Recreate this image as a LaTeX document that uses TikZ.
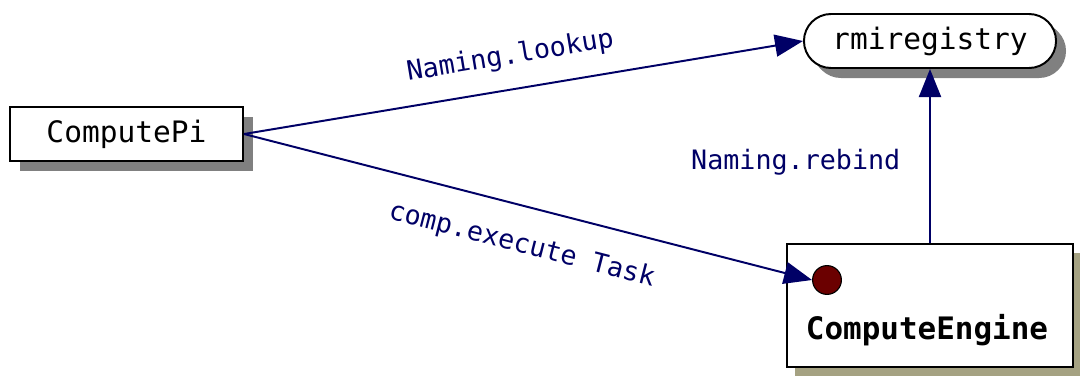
\documentclass[tikz,border=0pt]{standalone}
\usepackage{fontspec}
\setmonofont{DejaVu Sans Mono}
\usepackage{xcolor}
\usepackage{tikz}
\usetikzlibrary{arrows.meta,positioning,shapes.misc,shadows}
\definecolor{wire}{RGB}{0,0,102}
\definecolor{portred}{RGB}{107,0,0}
\definecolor{khaki}{RGB}{165,162,130}
\tikzset{
  objbox/.style={draw, line width=1.4pt, fill=white, inner sep=0pt,
                 font=\ttfamily\fontsize{21}{24}\selectfont,
                 drop shadow={shadow xshift=0.25cm, shadow yshift=-0.25cm,
                              fill=black!50, opacity=1}},
  registry/.style={objbox, rounded rectangle,
                   drop shadow={shadow xshift=0.2cm, shadow yshift=-0.2cm,
                                fill=black!50, opacity=1}},
  server/.style={draw, line width=1.4pt, fill=white, inner sep=0pt,
                 drop shadow={shadow xshift=0.2cm, shadow yshift=-0.22cm,
                              fill=khaki, opacity=1}},
  port/.style={circle, draw, line width=0.8pt, fill=portred, minimum size=0.72cm, inner sep=0pt},
  msg/.style={-{Triangle[length=0.7cm,width=0.55cm]}, line width=1.4pt, draw=wire},
  msglabel/.style={text=wire, font=\ttfamily\fontsize{19}{22}\selectfont}
}
\begin{document}
\begin{tikzpicture}[x=0.025cm, y=-0.025cm]
  \useasboundingbox (0,0) rectangle (1080,376);
  \node[objbox, minimum width=5.825cm, minimum height=1.35cm] (pi) at (126.5,134) {ComputePi};
  \node[registry, minimum width=6.3cm, minimum height=1.35cm] (reg) at (930,41) {rmiregistry};
  \node[server, minimum width=7.15cm, minimum height=3.075cm] (engine) at (930,305.5) {};
  \node[font=\ttfamily\bfseries\fontsize{22}{26}\selectfont] (enginename) at (927,330) {ComputeEngine};
  \node[port] (task) at (827,280) {};
  % remote calls
  \draw[msg] (pi.east) -- node[msglabel, sloped, pos=0.486, above=0.35cm] {Naming.lookup} (reg.west);
  \draw[msg] (pi.east) -- node[msglabel, sloped, pos=0.506, below=0.5cm] {comp.execute Task} (task.west);
  \draw[msg] (engine.north) -- node[msglabel, pos=0.466, left=0.6cm] {Naming.rebind} (reg.south);
\end{tikzpicture}
\end{document}
